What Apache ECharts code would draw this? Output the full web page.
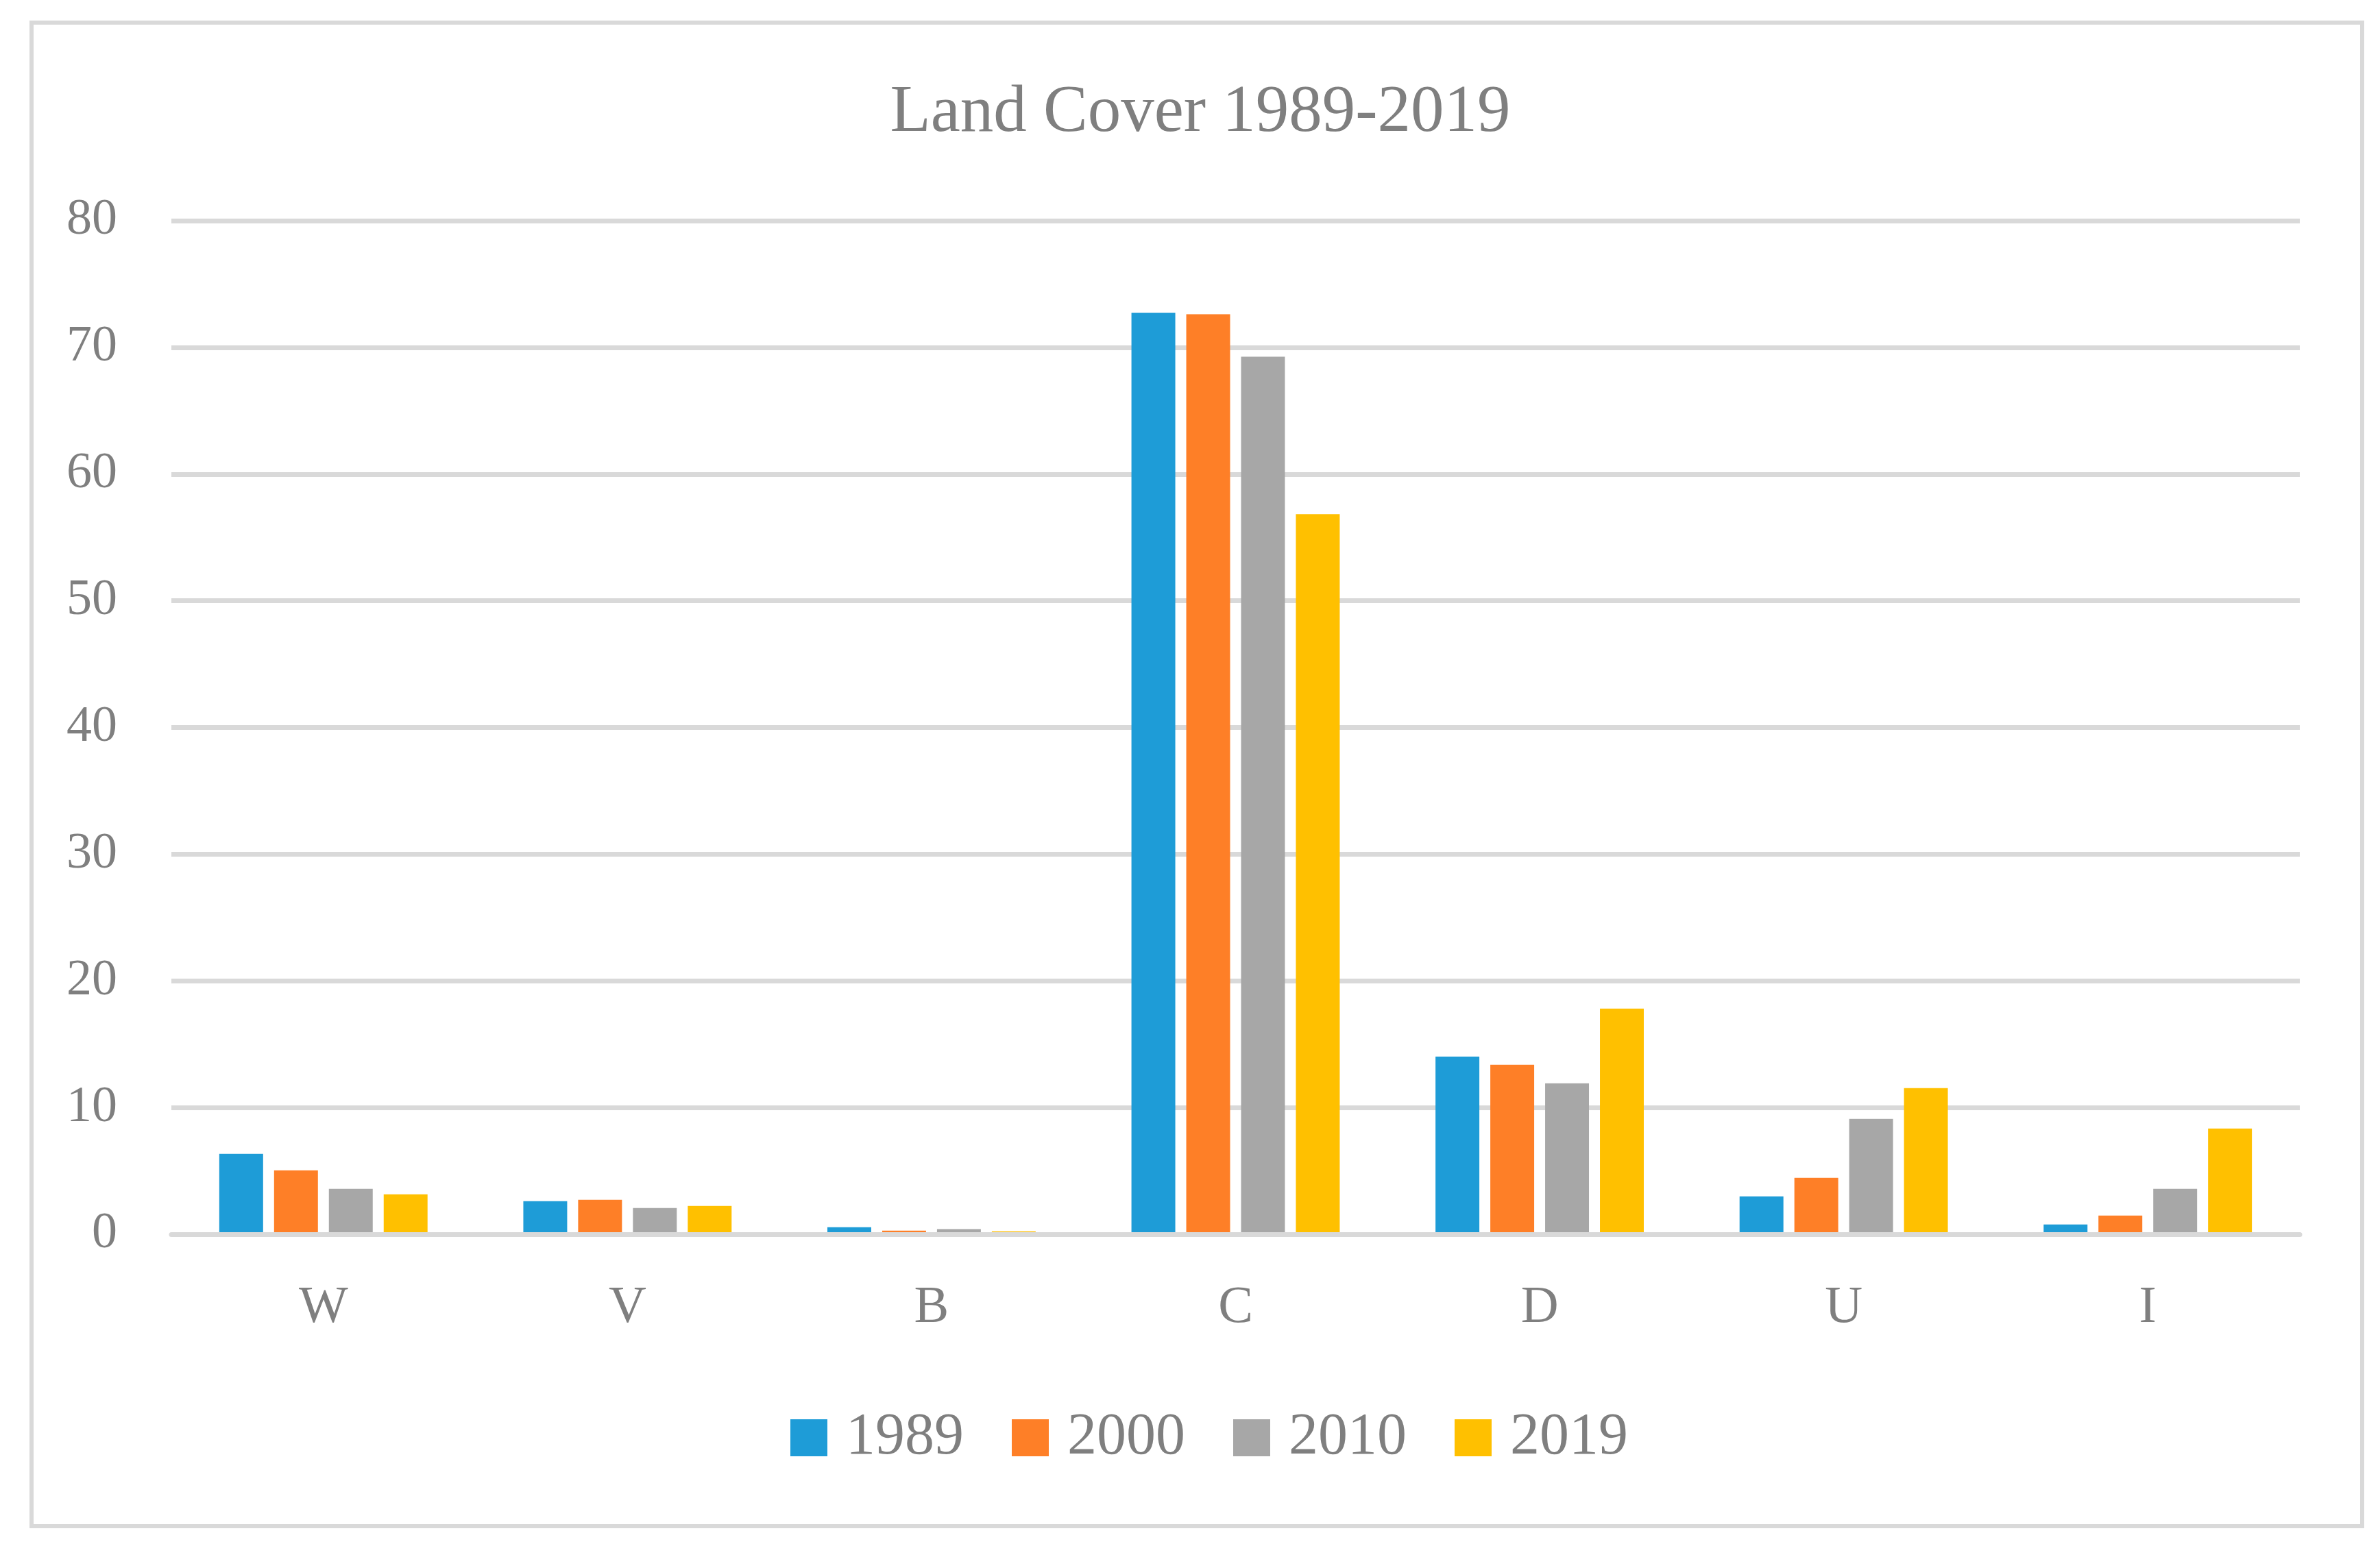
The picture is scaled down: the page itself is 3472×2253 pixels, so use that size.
<!DOCTYPE html>
<html>
<head>
<meta charset="utf-8">
<script src="https://cdn.jsdelivr.net/npm/echarts@6/dist/echarts.min.js"></script>
<style>
html,body{margin:0;padding:0;background:#fff;}
#chart{width:3472px;height:2253px;}
</style>
</head>
<body>
<div id="chart"></div>
<script>
const titleText = 'Land Cover 1989-2019';
const categories = ['W', 'V', 'B', 'C', 'D', 'U', 'I'];
const seriesNames = ['1989', '2000', '2010', '2019'];
const values1989 = [6.34, 2.61, 0.56, 72.72, 14.02, 2.99, 0.77];
const values2000 = [5.04, 2.72, 0.29, 72.61, 13.37, 4.45, 1.48];
const values2010 = [3.58, 2.07, 0.40, 69.26, 11.91, 9.10, 3.58];
const values2019 = [3.15, 2.23, 0.23, 56.83, 17.81, 11.53, 8.34];
const yTicks = [0, 10, 20, 30, 40, 50, 60, 70, 80];
const colors = ['#1e9cd7', '#fe7f27', '#a7a7a7', '#ffc000'];

const allValues = [values1989, values2000, values2010, values2019];
const font = 'Liberation Serif';
const textColor = '#7f7f7f';
const gridColor = '#d9d9d9';

const chart = echarts.init(document.getElementById('chart'), null, {renderer: 'canvas'});
chart.setOption({
  backgroundColor: '#ffffff',
  animation: false,
  color: colors,
  title: {
    text: titleText,
    left: 1746,
    textAlign: 'center',
    top: 112,
    textStyle: {fontFamily: font, fontSize: 97, fontWeight: 'normal', color: textColor}
  },
  graphic: [{
    type: 'rect',
    shape: {x: 46, y: 33, width: 3400, height: 2194},
    style: {fill: 'none', stroke: gridColor, lineWidth: 6},
    silent: true
  }],
  legend: {
    data: seriesNames,
    left: 1148,
    top: 2050,
    itemWidth: 54,
    itemHeight: 54,
    itemGap: 70,
    icon: 'rect',
    textStyle: {fontFamily: font, fontSize: 86, color: textColor, padding: [0, 0, 0, 22]}
  },
  grid: {left: 250, right: 117, top: 322, bottom: 452, containLabel: false},
  xAxis: {
    type: 'category',
    data: categories,
    z: 10,
    axisLine: {show: true, lineStyle: {color: gridColor, width: 7}},
    axisTick: {show: false},
    axisLabel: {fontFamily: font, fontSize: 76, color: textColor, margin: 70}
  },
  yAxis: {
    type: 'value',
    min: yTicks[0],
    max: yTicks[yTicks.length - 1],
    interval: yTicks[1] - yTicks[0],
    axisLine: {show: false},
    axisTick: {show: false},
    splitLine: {lineStyle: {color: gridColor, width: 7}},
    axisLabel: {fontFamily: font, fontSize: 74, color: textColor, margin: 79}
  },
  series: seriesNames.map((name, i) => ({
    name: name,
    type: 'bar',
    data: allValues[i],
    barGap: '25%',
    barCategoryGap: '31.5%',
    itemStyle: {color: colors[i]}
  }))
});
</script>
</body>
</html>
